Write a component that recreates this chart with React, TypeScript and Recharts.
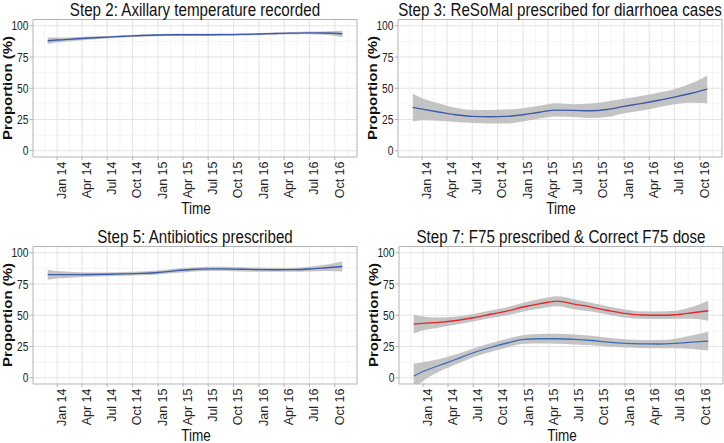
import React from 'react';
import { ComposedChart, Area, Line, XAxis, YAxis, CartesianGrid, ReferenceArea } from 'recharts';

// ---- data ----
const pointDates = ['2013-11-28', '2014-01-01', '2014-03-01', '2014-05-01', '2014-07-01', '2014-09-01', '2014-11-01', '2015-01-01', '2015-03-01', '2015-05-01', '2015-07-01', '2015-09-01', '2015-11-01', '2016-01-01', '2016-03-01', '2016-05-01', '2016-07-01', '2016-09-01', '2016-10-28'];

const tickDates = ['2014-01-01', '2014-04-01', '2014-07-01', '2014-10-01', '2015-01-01', '2015-04-01', '2015-07-01', '2015-10-01', '2016-01-01', '2016-04-01', '2016-07-01', '2016-10-01'];
const tickLabels = ['Jan 14', 'Apr 14', 'Jul 14', 'Oct 14', 'Jan 15', 'Apr 15', 'Jul 15', 'Oct 15', 'Jan 16', 'Apr 16', 'Jul 16', 'Oct 16'];
const yTicks = [0, 25, 50, 75, 100];
const yMinor = [12.5, 37.5, 62.5, 87.5];

// Step 2
const tempV = [88.0, 88.6, 89.4, 90.2, 90.9, 91.6, 92.2, 92.6, 92.8, 92.8, 92.8, 92.9, 93.1, 93.4, 93.8, 94.1, 94.3, 94.2, 93.6];
const tempLo = [85.4, 86.6, 87.9, 89.0, 89.9, 90.7, 91.3, 91.7, 91.9, 91.9, 91.9, 92.0, 92.2, 92.5, 92.9, 93.1, 93.2, 92.7, 91.1];
const tempHi = [90.6, 90.6, 90.9, 91.4, 91.9, 92.5, 93.1, 93.5, 93.7, 93.7, 93.7, 93.8, 94.0, 94.3, 94.7, 95.1, 95.4, 95.7, 96.1];

// Step 3
const resoV = [34.7, 33.3, 31.0, 28.8, 27.5, 27.2, 27.5, 28.8, 30.8, 32.5, 32.3, 32.0, 33.0, 35.5, 37.7, 40.2, 42.9, 46.0, 49.3];
const resoLo = [23.5, 24.5, 24.0, 23.0, 22.2, 21.8, 21.8, 23.5, 25.8, 27.5, 27.0, 26.2, 27.0, 30.1, 32.0, 34.6, 37.3, 38.5, 38.1];
const resoHi = [45.6, 42.0, 38.0, 34.5, 32.8, 32.6, 33.0, 34.1, 36.0, 38.0, 37.3, 37.8, 39.5, 41.6, 43.8, 46.5, 49.3, 54.0, 60.3];

// Step 5
const abxV = [82.5, 82.5, 82.5, 82.6, 82.8, 83.1, 83.5, 84.2, 85.5, 86.6, 87.1, 87.1, 86.8, 86.5, 86.4, 86.5, 87.0, 88.0, 89.0];
const abxLo = [78.5, 79.5, 80.3, 80.9, 81.3, 81.6, 82.0, 82.6, 83.8, 84.9, 85.4, 85.4, 85.1, 84.8, 84.8, 84.9, 85.1, 85.4, 85.0];
const abxHi = [86.5, 85.5, 84.7, 84.3, 84.3, 84.6, 85.0, 85.8, 87.2, 88.3, 88.8, 88.8, 88.5, 88.2, 88.0, 88.1, 88.9, 90.6, 93.0];

// Step 7: F75 prescribed (red)
const f75V = [42.9, 43.5, 44.3, 45.8, 48.0, 50.8, 53.3, 56.8, 59.3, 61.3, 58.9, 56.5, 53.8, 51.5, 50.2, 50.0, 50.4, 52.0, 53.6];
const f75Lo = [35.4, 38.0, 40.3, 42.6, 45.0, 47.8, 50.1, 53.3, 55.5, 57.3, 54.9, 53.0, 50.5, 48.3, 47.2, 47.0, 47.2, 47.2, 45.6];
const f75Hi = [50.4, 49.0, 48.3, 49.0, 51.0, 53.8, 56.5, 60.3, 63.1, 65.3, 62.9, 60.0, 57.1, 54.7, 53.2, 53.0, 53.6, 56.8, 61.6];

// Step 7: Correct F75 dose (blue)
const doseV = [1.3, 5.0, 10.0, 14.8, 20.0, 24.2, 27.8, 30.7, 31.2, 31.2, 30.7, 29.8, 28.5, 27.5, 27.1, 27.0, 27.5, 28.5, 29.3];
const doseLo = [-8.7, -2.5, 5.0, 10.8, 16.5, 20.7, 24.3, 27.2, 27.4, 27.2, 26.7, 26.0, 25.0, 24.2, 23.9, 23.7, 23.7, 23.0, 21.8];
const doseHi = [11.3, 12.5, 15.0, 18.8, 23.5, 27.7, 31.3, 34.2, 35.0, 35.2, 34.7, 33.6, 32.0, 30.8, 30.3, 30.3, 31.3, 34.0, 36.8];

// ---- derived scale helpers ----
const pointTimes = pointDates.map((d) => Date.parse(d));
const tickTimes = tickDates.map((d) => Date.parse(d));
const t0 = pointTimes[0];
const t1 = pointTimes[pointTimes.length - 1];
const pad = (t1 - t0) * 0.05;
const xDomain: [number, number] = [t0 - pad, t1 + pad];
const minorX: number[] = (() => {
  const out: number[] = [];
  const step0 = tickTimes[1] - tickTimes[0];
  out.push(tickTimes[0] - step0 / 2);
  for (let i = 0; i < tickTimes.length - 1; i++) out.push((tickTimes[i] + tickTimes[i + 1]) / 2);
  const n = tickTimes.length;
  out.push(tickTimes[n - 1] + (tickTimes[n - 1] - tickTimes[n - 2]) / 2);
  return out.filter((v) => v > xDomain[0] && v < xDomain[1]);
})();

const REG = '"Liberation Sans", Arial, sans-serif';
const SX = 0.82; // horizontal squeeze of the reference's lettering
const W = 359;
const H = 221;

const XTick = (props: any) => {
  const { x, y, payload } = props;
  const idx = tickTimes.indexOf(payload.value);
  return (
    <text
      x={0}
      y={0}
      transform={`translate(${x},${y}) rotate(-90)`}
      textAnchor="end"
      dy="0.7em"
      fontSize={12.5}
      fontFamily={REG}
      fill="#222"
    >
      {idx >= 0 ? tickLabels[idx] : ''}
    </text>
  );
};

const YTick = (props: any) => {
  const { x, y, payload } = props;
  return (
    <text
      x={0}
      y={0}
      transform={`translate(${x},${y}) scale(${SX},1)`}
      textAnchor="end"
      dy="0.36em"
      fontSize={12.5}
      fontFamily={REG}
      fill="#222"
    >
      {payload.value}
    </text>
  );
};

type Series = { v: number[]; lo: number[]; hi: number[]; color: string };

function Panel({ left, top, title, series }: { left: number; top: number; title: string; series: Series[] }) {
  const data = pointTimes.map((t, i) => {
    const row: any = { t };
    series.forEach((s, k) => {
      row['v' + k] = s.v[i];
      row['r' + k] = [s.lo[i], s.hi[i]];
    });
    return row;
  });
  return (
    <div style={{ position: 'absolute', left, top, width: W, height: H }}>
      <ComposedChart width={W} height={H} data={data} margin={{ top: 19.5, right: 2, bottom: 0, left: 0 }}>
        <CartesianGrid verticalValues={minorX} horizontalValues={yMinor} stroke="#f1f1f1" strokeWidth={0.8} />
        <CartesianGrid verticalValues={tickTimes} horizontalValues={yTicks} stroke="#e3e3e3" strokeWidth={1} />
        <XAxis
          type="number"
          dataKey="t"
          domain={xDomain}
          ticks={tickTimes}
          allowDataOverflow
          interval={0}
          height={64}
          tickSize={3}
          tickMargin={1.5}
          axisLine={false}
          tickLine={{ stroke: '#b3b3b3' }}
          tick={(p: any) => <XTick {...p} />}
        />
        <YAxis
          type="number"
          domain={[-5, 105]}
          ticks={yTicks}
          allowDataOverflow
          interval={0}
          width={33}
          tickSize={3.5}
          tickMargin={1}
          axisLine={false}
          tickLine={{ stroke: '#b3b3b3' }}
          tick={(p: any) => <YTick {...p} />}
        />
        {series.map((s, k) => (
          <Area
            key={'a' + k}
            dataKey={'r' + k}
            type="monotone"
            stroke="none"
            fill="#bababa"
            fillOpacity={0.85}
            isAnimationActive={false}
          />
        ))}
        {series.map((s, k) => (
          <Line
            key={'l' + k}
            dataKey={'v' + k}
            type="monotone"
            stroke={s.color}
            strokeWidth={1.3}
            dot={false}
            isAnimationActive={false}
          />
        ))}
        <ReferenceArea
          x1={xDomain[0]}
          x2={xDomain[1]}
          y1={-5}
          y2={105}
          fill="none"
          stroke="#b3b3b3"
          strokeWidth={1}
          ifOverflow="visible"
        />
      </ComposedChart>
      <svg
        width={W}
        height={H}
        style={{ position: 'absolute', left: 0, top: 0, pointerEvents: 'none', overflow: 'visible' }}
      >
        <text
          x={0}
          y={0}
          transform={`translate(195,15.5) scale(${SX},1)`}
          textAnchor="middle"
          fontSize={18.5}
          fontFamily={REG}
          fill="#111"
        >
          {title}
        </text>
        <text
          x={0}
          y={0}
          transform={`translate(196,214) scale(${SX},1)`}
          textAnchor="middle"
          fontSize={16.5}
          fontFamily={REG}
          fill="#111"
        >
          Time
        </text>
        <text
          x={0}
          y={0}
          transform={`translate(12,88) scale(${SX},1) rotate(-90)`}
          textAnchor="middle"
          fontSize={15}
          fontWeight="bold"
          fontFamily={REG}
          fill="#111"
        >
          Proportion (%)
        </text>
      </svg>
    </div>
  );
}

const BLUE = '#3d5aa8';

export default function App() {
  return (
    <div style={{ position: 'absolute', left: 0, top: 0, width: 724, height: 443, background: '#fff', overflow: 'hidden' }}>
      <Panel left={0} top={0} title="Step 2: Axillary temperature recorded" series={[{ v: tempV, lo: tempLo, hi: tempHi, color: BLUE }]} />
      <Panel left={365} top={0} title="Step 3: ReSoMal prescribed for diarrhoea cases" series={[{ v: resoV, lo: resoLo, hi: resoHi, color: BLUE }]} />
      <Panel left={0} top={227} title="Step 5: Antibiotics prescribed" series={[{ v: abxV, lo: abxLo, hi: abxHi, color: BLUE }]} />
      <Panel
        left={366}
        top={227}
        title="Step 7: F75 prescribed & Correct F75 dose"
        series={[
          { v: f75V, lo: f75Lo, hi: f75Hi, color: '#e2262c' },
          { v: doseV, lo: doseLo, hi: doseHi, color: '#3a6cb8' },
        ]}
      />
    </div>
  );
}
